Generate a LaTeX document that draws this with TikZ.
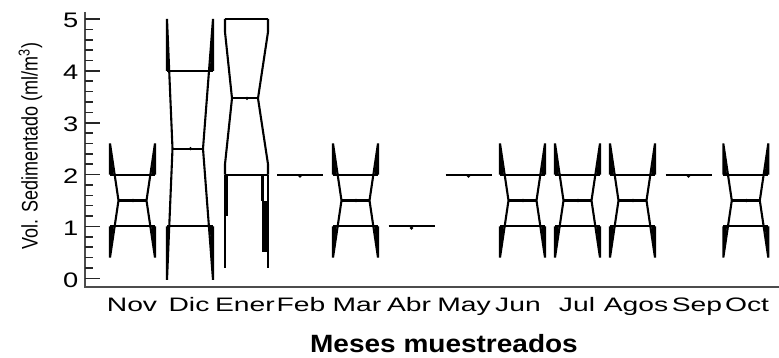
\documentclass[tikz,border=0pt]{standalone}
\usepackage{fontspec}
\setmainfont{Liberation Sans}
\usepackage{graphicx}
\tikzset{
  bx/.style={line width=2.1pt, black, line join=miter},
  axisline/.style={line width=2.2pt, black!70},
  tick/.style={line width=1.6pt, black!85},
  meanpt/.style={fill=black},
  monthlbl/.style={anchor=base, inner sep=0pt, font=\fontsize{19.5}{19.5}\selectfont},
  ticklbl/.style={anchor=east, inner sep=0pt, font=\fontsize{21}{21}\selectfont},
}
% notched box: #1 centre, #2 half width, #3 left notch inset, #4 right notch inset,
% #5 Q1, #6 median, #7 Q3, #8 notch low, #9 notch high
\newcommand\nbox[9]{%
  \draw[bx] ({#1-#2},#7) -- ({#1-#2},#9) -- ({#1-#3},#6) -- ({#1-#2},#8) -- ({#1-#2},#5);
  \draw[bx] ({#1+#2},#7) -- ({#1+#2},#9) -- ({#1+#4},#6) -- ({#1+#2},#8) -- ({#1+#2},#5);
  \draw[bx] ({#1-#2},#7) -- ({#1+#2},#7);
  \draw[bx] ({#1-#2},#5) -- ({#1+#2},#5);
  \draw[bx] ({#1-#3},#6) -- ({#1+#4},#6);
  \fill[meanpt] ({#1+0.5},#6) circle (1.8pt);
}
% fold wedges (notch beyond quartiles)
\newcommand\nwedge[9]{%
  \fill ({#1-#2},#9) -- ({#1-#2},#7) -- ({#1-#2+0.8*(#2-#3)*(#9-#7)/(#9-#6)},#7) -- cycle;
  \fill ({#1+#2},#9) -- ({#1+#2},#7) -- ({#1+#2-0.8*(#2-#4)*(#9-#7)/(#9-#6)},#7) -- cycle;
  \fill ({#1-#2},#8) -- ({#1-#2},#5) -- ({#1-#2+0.8*(#2-#3)*(#5-#8)/(#6-#8)},#5) -- cycle;
  \fill ({#1+#2},#8) -- ({#1+#2},#5) -- ({#1+#2-0.8*(#2-#4)*(#5-#8)/(#6-#8)},#5) -- cycle;
}
\newcommand\flatbox[2]{%
  \draw[bx] ({#1-23},#2) -- ({#1+23},#2);
  \fill[meanpt] (#1,{#2-0.03}) circle (1.8pt);
}
\begin{document}
\begin{tikzpicture}[x=1pt,y=-1pt]
\useasboundingbox (0,0) rectangle (779,358);
\fill[white] (0,0) rectangle (779,358);

% axes
\draw[axisline] (85,12) -- (85,287);
\draw[axisline] (84,287) -- (779,287);

\begin{scope}[shift={(0,278.3)}, y=51.86pt]
  % ticks
  \foreach \v in {0,...,5} {
    \draw[tick] (85,\v) -- (100,\v);
    \node[ticklbl] at (78.5,{\v-0.03}) {\scalebox{1.3}[1]{\v}};
  }
  \foreach \v in {0.2,0.4,...,4.9} {
    \draw[tick] (85,\v) -- (93,\v);
  }

  % Nov, Mar, Jun, Jul, Agos, Oct
  \foreach \c in {132.5,355.5,522.5,577.5,632.5,745.8} {
    \nbox{\c}{22.5}{14}{14}{1}{1.5}{2}{0.4}{2.6}
    \nwedge{\c}{22.5}{14}{14}{1}{1.5}{2}{0.4}{2.6}
  }
  % Dic
  \nbox{190}{23}{17.5}{13}{1}{2.5}{4}{-0.03}{5}
  \nwedge{190}{23}{17.5}{13}{1}{2.5}{4}{-0.03}{5}
  % Ener
  \nbox{246.5}{21.5}{14.5}{11.5}{2}{3.47}{5}{2.2}{4.75}
  \draw[bx] (225,2) -- (225,0.2);
  \fill (224,2) rectangle (228.2,1.2);
  \draw[bx] (268,2) -- (268,0.2);
  \draw[bx] (262.5,2) -- (262.5,1.5);
  \fill (261.5,1.5) rectangle (269,0.5);
  % Feb, Abr, May, Sep
  \flatbox{300}{2}
  \flatbox{411.5}{1}
  \flatbox{468.5}{2}
  \flatbox{688.5}{2}
\end{scope}

% month labels
\node[monthlbl] at (132,311.5) {\scalebox{1.45}[1]{Nov}};
\node[monthlbl] at (189,311.5) {\scalebox{1.45}[1]{Dic}};
\node[monthlbl] at (245,311.5) {\scalebox{1.45}[1]{Ener}};
\node[monthlbl] at (301,311.5) {\scalebox{1.45}[1]{Feb}};
\node[monthlbl] at (357,311.5) {\scalebox{1.45}[1]{Mar}};
\node[monthlbl] at (409,311.5) {\scalebox{1.45}[1]{Abr}};
\node[monthlbl] at (464,311.5) {\scalebox{1.45}[1]{May}};
\node[monthlbl] at (518,311.5) {\scalebox{1.45}[1]{Jun}};
\node[monthlbl] at (577,311.5) {\scalebox{1.45}[1]{Jul}};
\node[monthlbl] at (636,311.5) {\scalebox{1.45}[1]{Agos}};
\node[monthlbl] at (697,311.5) {\scalebox{1.45}[1]{Sep}};
\node[monthlbl] at (747,311.5) {\scalebox{1.45}[1]{Oct}};

% axis titles
\node[rotate=90, anchor=base, inner sep=0pt] (ylab) at (37.5,146)
  {\fontsize{18}{18}\selectfont\scalebox{1}[1.25]{Vol. Sedimentado (ml/m\textsuperscript{3})}};
\node[anchor=base, inner sep=0pt] (xlab) at (444,352.7)
  {\fontsize{25}{25}\selectfont\bfseries\scalebox{1.12}[1]{Meses muestreados}};
\end{tikzpicture}
\end{document}
